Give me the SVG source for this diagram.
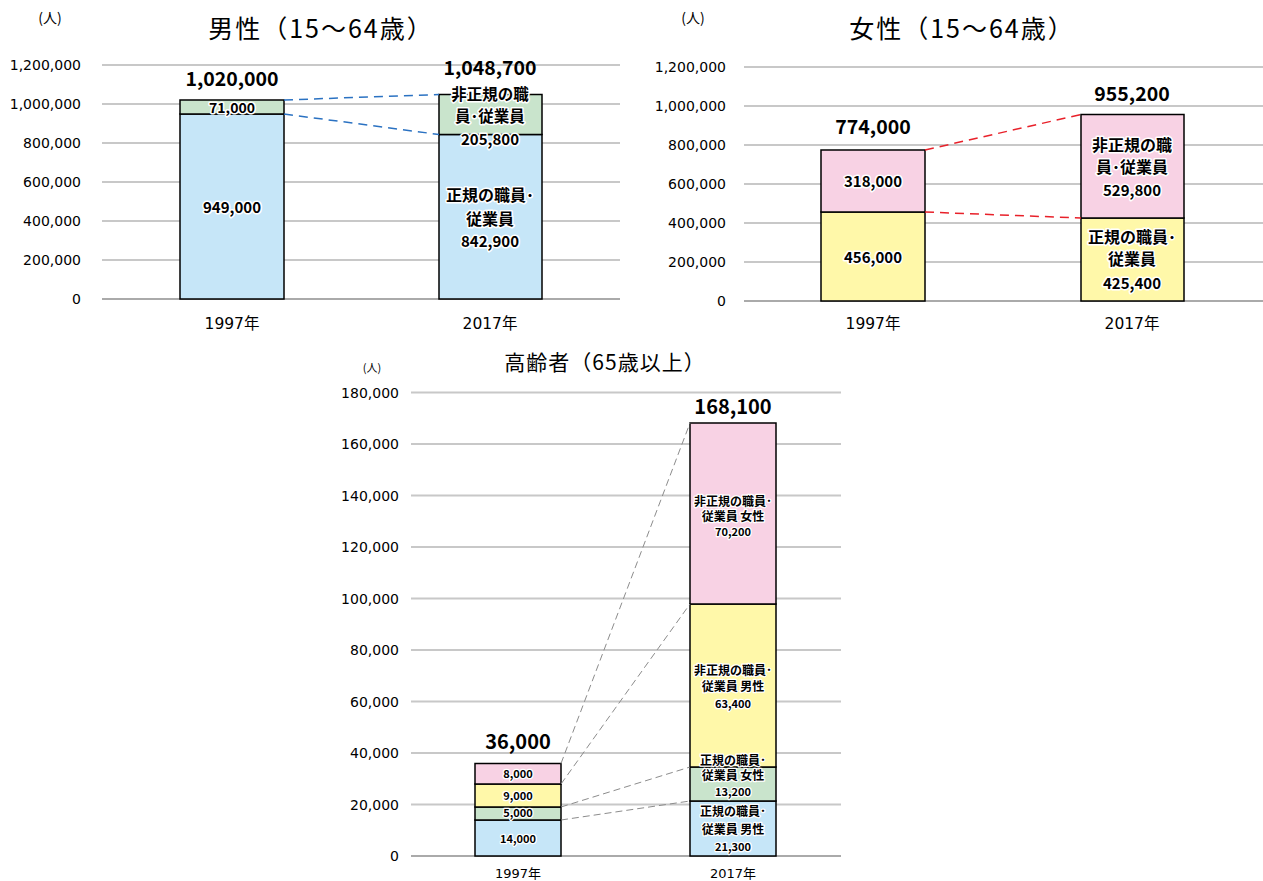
<svg xmlns="http://www.w3.org/2000/svg" width="1263" height="881" viewBox="0 0 1263 881">
<style>
text{font-family:"Noto Sans CJK JP","Noto Sans",sans-serif;fill:#000}
.ax{font-family:"DejaVu Sans","Noto Sans CJK JP",sans-serif;font-size:14px;text-anchor:end}
.xl{font-family:"DejaVu Sans","Noto Sans CJK JP",sans-serif;font-size:15.5px;text-anchor:middle}
.xl3{font-family:"DejaVu Sans","Noto Sans CJK JP",sans-serif;font-size:13px;text-anchor:middle}
.ti{font-size:25px;text-anchor:middle;letter-spacing:2px}
.un{font-size:14px;text-anchor:middle}
.tot{font-size:19.5px;font-weight:bold;text-anchor:middle}
.lb{font-size:15px;font-weight:bold;text-anchor:middle;stroke:#fff;stroke-width:3;paint-order:stroke;stroke-linejoin:round}
.lj{font-size:16px}
.lb3{font-size:12px;font-weight:bold;text-anchor:middle;stroke:#fff;stroke-width:2.5;paint-order:stroke;stroke-linejoin:round}
.lb3n{font-size:11px;font-weight:bold;text-anchor:middle;stroke:#fff;stroke-width:2.5;paint-order:stroke;stroke-linejoin:round}
.g{stroke:#c8c8c8;stroke-width:2}
.ax0{stroke:#aaa;stroke-width:2}
.bar{stroke:#000;stroke-width:1.5}
.blue{fill:#c6e6f8}
.green{fill:#c9e4cc}
.pink{fill:#f8d2e4}
.yellow{fill:#fff8a9}
.cb{stroke:#2b72c2;stroke-width:1.5;stroke-dasharray:9 6;fill:none}
.cr{stroke:#e8212a;stroke-width:1.5;stroke-dasharray:9 6;fill:none}
.cg{stroke:#8c8c8c;stroke-width:1;stroke-dasharray:7 4;fill:none}
</style>
<rect width="1263" height="881" fill="#fff"/>

<!-- Chart 1: male -->
<g id="chart-male">
  <text class="un" x="50" y="23">(人)</text>
  <text class="ti" x="321" y="38">男性（15～64歳）</text>
  <g id="male-grid">
    <line class="g" x1="102" y1="65" x2="620" y2="65"/>
    <line class="g" x1="102" y1="104" x2="620" y2="104"/>
    <line class="g" x1="102" y1="143" x2="620" y2="143"/>
    <line class="g" x1="102" y1="182" x2="620" y2="182"/>
    <line class="g" x1="102" y1="221" x2="620" y2="221"/>
    <line class="g" x1="102" y1="260" x2="620" y2="260"/>
    <line class="ax0" x1="102" y1="299" x2="620" y2="299"/>
    <text class="ax" x="81" y="70">1,200,000</text>
    <text class="ax" x="81" y="109">1,000,000</text>
    <text class="ax" x="81" y="148">800,000</text>
    <text class="ax" x="81" y="187">600,000</text>
    <text class="ax" x="81" y="226">400,000</text>
    <text class="ax" x="81" y="265">200,000</text>
    <text class="ax" x="81" y="304">0</text>
    <text class="xl" x="232" y="329">1997年</text>
    <text class="xl" x="490" y="329">2017年</text>
  </g>
  <g id="male-1997">
    <rect class="bar blue" x="180" y="114" width="104" height="185"/>
    <rect class="bar green" x="180" y="100" width="104" height="14"/>
    <text class="tot" x="232" y="86">1,020,000</text>
    <text class="lb" x="232" y="113" style="font-size:14px">71,000</text>
    <text class="lb" x="232" y="213">949,000</text>
  </g>
  <g id="male-2017">
    <rect class="bar blue" x="439" y="134.5" width="103" height="164.5"/>
    <rect class="bar green" x="439" y="94.5" width="103" height="40"/>
    <text class="tot" x="490" y="75">1,048,700</text>
    <text class="lb" x="490" y="99.5" style="font-size:15.5px">非正規の職<tspan x="490" dy="22.5">員･従業員</tspan></text>
    <text class="lb" x="490" y="145">205,800</text>
    <text class="lb lj" x="490" y="201">正規の職員･<tspan x="490" dy="23.5">従業員</tspan></text>
    <text class="lb" x="490" y="247">842,900</text>
  </g>
</g>

<!-- Chart 2: female -->
<g id="chart-female">
  <text class="un" x="693" y="23">(人)</text>
  <text class="ti" x="962" y="38">女性（15～64歳）</text>
  <g id="female-grid">
    <line class="g" x1="744" y1="67" x2="1263" y2="67"/>
    <line class="g" x1="744" y1="106" x2="1263" y2="106"/>
    <line class="g" x1="744" y1="145" x2="1263" y2="145"/>
    <line class="g" x1="744" y1="184" x2="1263" y2="184"/>
    <line class="g" x1="744" y1="223" x2="1263" y2="223"/>
    <line class="g" x1="744" y1="262" x2="1263" y2="262"/>
    <line class="ax0" x1="744" y1="301" x2="1263" y2="301"/>
    <text class="ax" x="726" y="72">1,200,000</text>
    <text class="ax" x="726" y="111">1,000,000</text>
    <text class="ax" x="726" y="150">800,000</text>
    <text class="ax" x="726" y="189">600,000</text>
    <text class="ax" x="726" y="228">400,000</text>
    <text class="ax" x="726" y="267">200,000</text>
    <text class="ax" x="726" y="306">0</text>
    <text class="xl" x="873" y="329">1997年</text>
    <text class="xl" x="1132" y="329">2017年</text>
  </g>
  <g id="female-1997">
    <rect class="bar yellow" x="821" y="212" width="104" height="89"/>
    <rect class="bar pink" x="821" y="150" width="104" height="62"/>
    <text class="tot" x="873" y="134">774,000</text>
    <text class="lb" x="873" y="187">318,000</text>
    <text class="lb" x="873" y="263">456,000</text>
  </g>
  <g id="female-2017">
    <rect class="bar yellow" x="1081" y="218" width="103" height="83"/>
    <rect class="bar pink" x="1081" y="114.5" width="103" height="103.5"/>
    <text class="tot" x="1132" y="101">955,200</text>
    <text class="lb lj" x="1132" y="151">非正規の職<tspan x="1132" dy="22">員･従業員</tspan></text>
    <text class="lb" x="1132" y="196">529,800</text>
    <text class="lb lj" x="1132" y="243">正規の職員･<tspan x="1132" dy="22">従業員</tspan></text>
    <text class="lb" x="1132" y="289">425,400</text>
  </g>
</g>

<!-- Chart 3: elderly -->
<g id="chart-elderly">
  <text class="un" x="372" y="372" style="font-size:11px">(人)</text>
  <text class="ti" x="605" y="370" style="font-size:21px;letter-spacing:1px">高齢者（65歳以上）</text>
  <g id="elderly-grid">
    <line class="g" x1="411" y1="392.5" x2="841" y2="392.5"/>
    <line class="g" x1="411" y1="444" x2="841" y2="444"/>
    <line class="g" x1="411" y1="495.5" x2="841" y2="495.5"/>
    <line class="g" x1="411" y1="547" x2="841" y2="547"/>
    <line class="g" x1="411" y1="598.5" x2="841" y2="598.5"/>
    <line class="g" x1="411" y1="650" x2="841" y2="650"/>
    <line class="g" x1="411" y1="701.5" x2="841" y2="701.5"/>
    <line class="g" x1="411" y1="753" x2="841" y2="753"/>
    <line class="g" x1="411" y1="804.5" x2="841" y2="804.5"/>
    <line class="ax0" x1="411" y1="856" x2="841" y2="856"/>
    <text class="ax" x="399" y="397.5">180,000</text>
    <text class="ax" x="399" y="449">160,000</text>
    <text class="ax" x="399" y="500.5">140,000</text>
    <text class="ax" x="399" y="552">120,000</text>
    <text class="ax" x="399" y="603.5">100,000</text>
    <text class="ax" x="399" y="655">80,000</text>
    <text class="ax" x="399" y="706.5">60,000</text>
    <text class="ax" x="399" y="758">40,000</text>
    <text class="ax" x="399" y="809.5">20,000</text>
    <text class="ax" x="399" y="861">0</text>
    <text class="xl3" x="518" y="878">1997年</text>
    <text class="xl3" x="733" y="878">2017年</text>
  </g>
  <g id="elderly-1997">
    <rect class="bar blue" x="475" y="820" width="86" height="36"/>
    <rect class="bar green" x="475" y="807" width="86" height="13"/>
    <rect class="bar yellow" x="475" y="784" width="86" height="23"/>
    <rect class="bar pink" x="475" y="763.5" width="86" height="20.5"/>
    <text class="tot" x="518" y="749" style="font-size:20px">36,000</text>
    <text class="lb3n" x="518" y="778">8,000</text>
    <text class="lb3n" x="518" y="800">9,000</text>
    <text class="lb3n" x="518" y="817">5,000</text>
    <text class="lb3n" x="518" y="843">14,000</text>
  </g>
  <g id="elderly-2017">
    <rect class="bar blue" x="690" y="801" width="86" height="55"/>
    <rect class="bar green" x="690" y="767" width="86" height="34"/>
    <rect class="bar yellow" x="690" y="604" width="86" height="163"/>
    <rect class="bar pink" x="690" y="423" width="86" height="181"/>
    <text class="tot" x="733" y="414" style="font-size:20px">168,100</text>
    <text class="lb3" x="733" y="506">非正規の職員･<tspan x="733" dy="15">従業員 女性</tspan></text>
    <text class="lb3n" x="733" y="536">70,200</text>
    <text class="lb3" x="733" y="675">非正規の職員･<tspan x="733" dy="16">従業員 男性</tspan></text>
    <text class="lb3n" x="733" y="708">63,400</text>
    <text class="lb3" x="733" y="765">正規の職員･<tspan x="733" dy="15">従業員 女性</tspan></text>
    <text class="lb3n" x="733" y="796">13,200</text>
    <text class="lb3" x="733" y="816">正規の職員･<tspan x="733" dy="18">従業員 男性</tspan></text>
    <text class="lb3n" x="733" y="851">21,300</text>
  </g>
</g>

<g id="connectors">
  <line class="cb" x1="284" y1="100" x2="439" y2="94.5"/>
  <line class="cb" x1="284" y1="114" x2="439" y2="134.5"/>
  <line class="cr" x1="925" y1="150" x2="1081" y2="114.5"/>
  <line class="cr" x1="925" y1="212" x2="1081" y2="218"/>
  <line class="cg" x1="561" y1="763.5" x2="690" y2="423"/>
  <line class="cg" x1="561" y1="784" x2="690" y2="604"/>
  <line class="cg" x1="561" y1="807" x2="690" y2="767"/>
  <line class="cg" x1="561" y1="820" x2="690" y2="801"/>
</g>
</svg>
